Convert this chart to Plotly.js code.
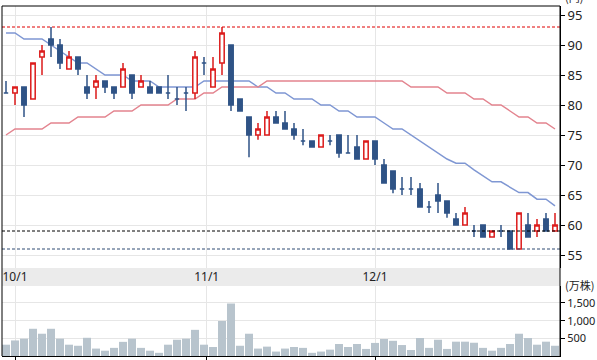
<!DOCTYPE html>
<html><head><meta charset="utf-8">
<script src="https://cdn.plot.ly/plotly-3.0.1.min.js"></script>
<style>html,body{margin:0;padding:0;background:#fff}#chart{width:597px;height:360px}</style>
</head><body><div id="chart"></div>
<script>
// daily candles (円)
const openP  = [82,82,83,81,88,91,90,86,88,83,83,84,83,83,85,83,83,83,82,81,82,82,87,83,87,90,81,78,75,75,78,77,76,74,74,73,74,75,72,73,71,74,70,69,66,66,66,63,65,64,61,60,59,60,58,59,59,56,60,59,61,59];
const highP  = [84,83,83,87,90,93,91,89,88,85,85,84,83,87,85,85,84,83,85,83,83,89,88,88,93,90,81,78,77,79,79,79,77,76,74,75,75,75,75,75,74,74,71,69,68,68,67,64,67,64,62,63,60,60,59,60,59,62,62,61,62,62];
const lowP   = [82,80,78,81,85,88,86,86,85,81,81,82,81,83,81,83,82,82,81,80,79,81,85,83,85,79,79,71.3,74.2,75,77,76,74.2,73.3,73,73,73.3,71.2,72,71,71,70,67,65.3,65,65,63,62,62,61.2,60,60,58,58,58,58,56,56,58,58,59,59];
const closeP = [82,83,80,87,89,90,87,88,86,82,84,83,82,86,82,84,82,82,82,81,82,88,87,86,92,80,79,75,76,78,77,76,75,74,73,75,74,72,72,71,74,71,67,66,66,66,63,63,64,62,60,62,59,58,59,59,56,62,58,60,59,60];
// moving averages
const maShort = [92,92,91,91,91,90,89,88,87,87,86,85,85,85,84,84,84,83,83,83,83,83,84,84,84,84,84,84,83,83,82,82,81,81,81,80,80,79,79,78,78,78,77,76,76,75,74,73,72,71,70.3,70.3,69.2,68.2,67.2,67.2,66.3,65.4,65.4,64.3,64.3,63.2];
const maLong  = [75,76,76,76,76,77,77,77,78,78,78,78,79,79,79,80,80,80,80,81,81,81,82,82,83,83,83,83,83,84,84,84,84,84,84,84,84,84,84,84,84,84,84,84,84,83,83,83,83,82,82,82,81,81,80,80,79,78,78,77,77,76];
// volume (万株)
const volume  = [320,440,490,770,630,770,490,320,290,515,210,150,230,400,490,230,150,90,320,460,490,740,320,255,990,1485,290,630,210,265,125,210,255,230,90,125,180,340,255,340,200,370,480,430,310,170,510,230,460,200,405,405,375,230,150,230,340,630,510,320,405,290];
const tickPos  = [1, 22.3, 41];
const tickText = ['10/1', '11/1', '12/1'];
const priceTicks = [55,60,65,70,75,80,85,90,95];
const volTicks = [500,1000,1500];
const refLevel = 59;

const idx = openP.map((_, i) => i);
const bodyIdx = idx.filter(i => openP[i] !== closeP[i]);
const dojiIdx = idx.filter(i => openP[i] === closeP[i]);
const pick = (arr, ids) => ids.map(i => arr[i]);

const NAVY = '#2f5386', RED = '#dc1b1b', GRID = '#e6e6e6', TXT = '#222';
const FONT = 'Noto Sans, sans-serif';
const hiLevel = Math.max(...highP), loLevel = Math.min(...lowP);

const traces = [
  {type:'scatter', mode:'lines', x:idx, y:maShort, xaxis:'x', yaxis:'y',
   line:{color:'#7f97d3', width:1.5}, hoverinfo:'skip'},
  {type:'scatter', mode:'lines', x:idx, y:maLong, xaxis:'x', yaxis:'y',
   line:{color:'#e3848f', width:1.5}, hoverinfo:'skip'},
  {type:'candlestick', x:bodyIdx, open:pick(openP,bodyIdx), high:pick(highP,bodyIdx),
   low:pick(lowP,bodyIdx), close:pick(closeP,bodyIdx), xaxis:'x', yaxis:'y3',
   increasing:{line:{color:RED, width:1.5}, fillcolor:'#ffffff'},
   decreasing:{line:{color:NAVY, width:1.5}, fillcolor:NAVY},
   whiskerwidth:0, hoverinfo:'skip'},
  {type:'candlestick', x:dojiIdx, open:pick(openP,dojiIdx), high:pick(highP,dojiIdx),
   low:pick(lowP,dojiIdx), close:pick(closeP,dojiIdx), xaxis:'x', yaxis:'y3',
   increasing:{line:{color:NAVY, width:1.5}, fillcolor:NAVY},
   decreasing:{line:{color:NAVY, width:1.5}, fillcolor:NAVY},
   whiskerwidth:0, hoverinfo:'skip'},
  {type:'bar', x:idx, y:volume, xaxis:'x2', yaxis:'y2',
   marker:{color:'#b8c4cd', line:{width:0}}, hoverinfo:'skip'}
];

const pRange = [52.833, 96.5];
const layout = {
  width:597, height:360, margin:{l:2, r:37, t:6, b:4},
  paper_bgcolor:'#fff', plot_bgcolor:'#fff', showlegend:false,
  font:{family:FONT, color:TXT}, boxgap:0.3, bargap:0.11,
  xaxis:{domain:[0,1], range:[-0.444, 61.556], anchor:'y', tickvals:tickPos, ticktext:tickText,
    showgrid:true, gridcolor:GRID, gridwidth:1, ticks:'', zeroline:false, showline:false,
    tickfont:{size:12, color:TXT}, rangeslider:{visible:false}, fixedrange:true},
  yaxis:{domain:[0.2514,1], range:pRange, side:'right', anchor:'x', tickvals:priceTicks,
    showgrid:true, gridcolor:GRID, zeroline:false, ticks:'outside', ticklen:4, tickcolor:'#000',
    showline:true, linecolor:'#000', tickfont:{size:13, color:TXT}, fixedrange:true},
  yaxis3:{overlaying:'y', range:pRange, side:'right', visible:false, fixedrange:true},
  xaxis2:{domain:[0,1], anchor:'y2', matches:'x', tickvals:tickPos, showticklabels:false,
    ticks:'outside', ticklen:3, tickcolor:'#000', showgrid:true, gridcolor:GRID,
    showline:true, linecolor:'#000', zeroline:false, fixedrange:true},
  yaxis2:{domain:[0,0.2], range:[0,1980], side:'right', anchor:'x2', tickvals:volTicks,
    tickformat:',d', showgrid:true, gridcolor:GRID, zeroline:false, ticks:'outside', ticklen:4,
    tickcolor:'#000', showline:true, linecolor:'#000', tickfont:{size:11, color:TXT}, fixedrange:true},
  shapes:[
    {type:'rect', xref:'paper', yref:'paper', x0:0, x1:1, y0:0.2, y1:0.2514,
     fillcolor:'#ebebeb', line:{width:0}, layer:'below'},
    {type:'line', xref:'paper', yref:'y', x0:0, x1:1, y0:hiLevel, y1:hiLevel,
     line:{color:'#e00000', width:1, dash:'3px,2px'}},
    {type:'line', xref:'paper', yref:'y', x0:0, x1:1, y0:refLevel, y1:refLevel,
     line:{color:'#000', width:1, dash:'3px,2px'}},
    {type:'line', xref:'paper', yref:'y', x0:0, x1:1, y0:loLevel, y1:loLevel,
     line:{color:'#2e4a72', width:1, dash:'3px,2px'}},
    {type:'line', xref:'paper', yref:'paper', x0:0, x1:0, y0:0, y1:1, line:{color:'#000', width:1}},
    {type:'line', xref:'paper', yref:'paper', x0:1, x1:1, y0:0, y1:1, line:{color:'#000', width:1}},
    {type:'line', xref:'paper', yref:'paper', x0:0, x1:1, y0:1, y1:1, line:{color:'#000', width:1}}
  ],
  annotations:[
    {xref:'paper', yref:'paper', x:1, y:0.2029, xanchor:'left', yanchor:'middle', xshift:3,
     text:'(万株)', showarrow:false, font:{family:'Noto Sans CJK JP', size:11, color:TXT}},
    {xref:'paper', yref:'paper', x:1, y:1.0257, xanchor:'left', yanchor:'middle', xshift:3,
     text:'(円)', showarrow:false, font:{family:'Noto Sans CJK JP', size:11, color:TXT}}
  ]
};
Plotly.newPlot('chart', traces, layout, {staticPlot:true, displayModeBar:false});
</script></body></html>
